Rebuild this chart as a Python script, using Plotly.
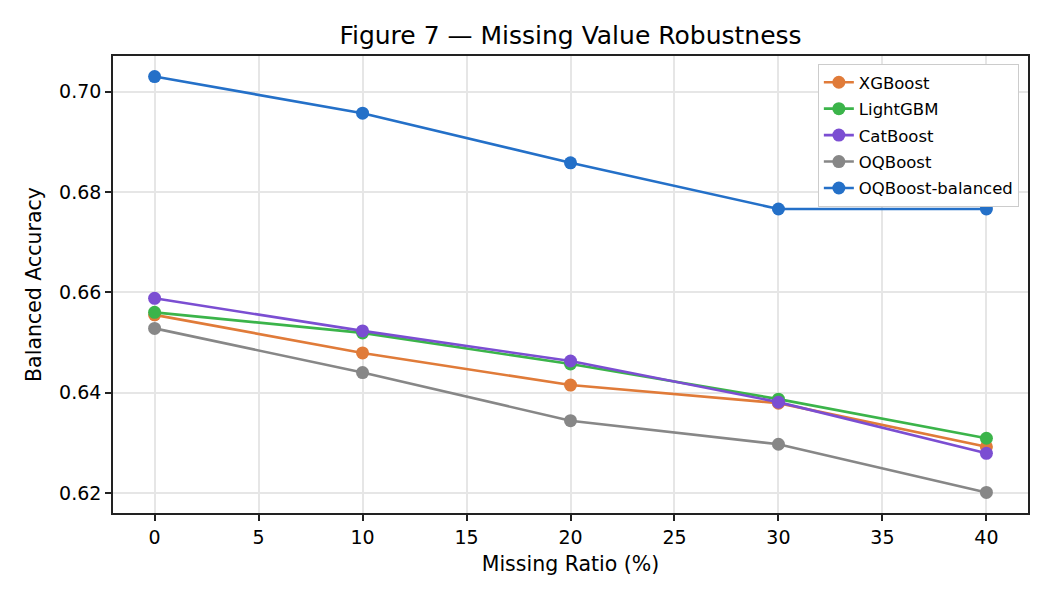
import plotly.graph_objects as go

missing_ratio = [0, 10, 20, 30, 40]
xgboost = [0.6555, 0.6479, 0.6415, 0.6379, 0.6292]
lightgbm = [0.6560, 0.6519, 0.6457, 0.6387, 0.6309]
catboost = [0.6588, 0.6523, 0.6463, 0.6381, 0.6279]
oqboost = [0.6528, 0.6440, 0.6344, 0.6297, 0.6201]
oqboost_bal = [0.7030, 0.6957, 0.6858, 0.6766, 0.6766]

series = [
    ("XGBoost", xgboost, "#E07B39"),
    ("LightGBM", lightgbm, "#3BB44A"),
    ("CatBoost", catboost, "#7B4ED2"),
    ("OQBoost", oqboost, "#878787"),
    ("OQBoost-balanced", oqboost_bal, "#2470C8"),
]

fig = go.Figure()
for name, vals, color in series:
    fig.add_trace(go.Scatter(
        x=missing_ratio, y=vals, name=name, mode="lines+markers",
        line=dict(color=color, width=2.6),
        marker=dict(color=color, size=13),
        legendgroup=name,
    ))

font = "DejaVu Sans"
axis_common = dict(
    showgrid=True, gridcolor="#E6E6E6", gridwidth=1.5, zeroline=False,
    showline=True, linecolor="#222222", linewidth=1.6, mirror=True,
    ticks="outside", ticklen=6, tickwidth=1.6, tickcolor="#222222",
    tickfont=dict(size=19, family=font),
)
fig.update_layout(
    width=1050, height=600,
    margin=dict(l=113, r=22, t=56, b=87),
    paper_bgcolor="white", plot_bgcolor="white",
    font=dict(family=font, size=20, color="black"),
    title=dict(text="Figure 7 — Missing Value Robustness", x=0.5, xanchor="center",
               xref="paper", y=1 - 35 / 600, yanchor="middle", font=dict(size=25, family=font)),
    showlegend=True,
    legend=dict(x=0.990, y=0.9825, xanchor="right", yanchor="top",
                bgcolor="white", bordercolor="#CCCCCC", borderwidth=1,
                font=dict(size=16.5, family=font), tracegroupgap=2),
    xaxis=dict(title=dict(text="Missing Ratio (%)", font=dict(size=20.5), standoff=10),
               range=[-2, 42], tickmode="array", tickvals=[0, 5, 10, 15, 20, 25, 30, 35, 40],
               **axis_common),
    yaxis=dict(title=dict(text="Balanced Accuracy", font=dict(size=20.5), standoff=12),
               range=[0.6160, 0.7071], tickmode="array",
               tickvals=[0.62, 0.64, 0.66, 0.68, 0.70], tickformat=".2f",
               **axis_common),
)

fig.write_html("out.html")
